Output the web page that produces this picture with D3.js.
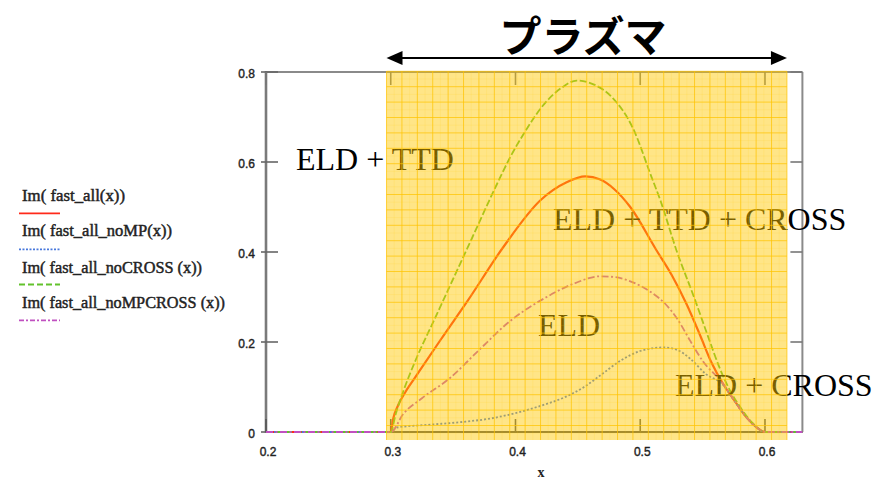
<!DOCTYPE html>
<html>
<head>
<meta charset="utf-8">
<script src="https://cdn.jsdelivr.net/npm/d3@7"></script>
<style>
  body { margin: 0; background: #fff; }
  svg { display: block; }
</style>
</head>
<body>
<svg id="chart" width="879" height="479"></svg>
<script>
// Axis ticks
const xTicks = [0.2, 0.3, 0.4, 0.5, 0.6];
const yTicks = [0, 0.2, 0.4, 0.6, 0.8];
const xTickLabels = ["0.2", "0.3", "0.4", "0.5", "0.6"];
const yTickLabels = ["0", "0.2", "0.4", "0.6", "0.8"];

// Legend entries (expressions plotted)
const seriesNames = [
  "Im( fast_all(x))",
  "Im( fast_all_noMP(x))",
  "Im( fast_all_noCROSS (x))",
  "Im( fast_all_noMPCROSS (x))"
];

// Im(ω) against x, [x, y] pairs
const fastAll = [
  [0.2, 0], [0.3, 0], [0.302, 0.03], [0.306, 0.06], [0.312, 0.09], [0.32, 0.123],
  [0.34, 0.205], [0.362, 0.293], [0.39, 0.41], [0.42, 0.515], [0.441, 0.555],
  [0.456, 0.568], [0.468, 0.561], [0.479, 0.54], [0.492, 0.5], [0.513, 0.404],
  [0.525, 0.35], [0.537, 0.285], [0.548, 0.215], [0.557, 0.155], [0.566, 0.109],
  [0.575, 0.072], [0.585, 0.033], [0.593, 0.011], [0.6, 0], [0.63, 0]
];
const fastAllNoMP = [
  [0.2, 0], [0.3, 0], [0.305, 0.01], [0.33, 0.016], [0.36, 0.023], [0.38, 0.03],
  [0.4, 0.042], [0.42, 0.058], [0.44, 0.078], [0.455, 0.1], [0.47, 0.13],
  [0.485, 0.16], [0.5, 0.18], [0.519, 0.188], [0.53, 0.182], [0.54, 0.163],
  [0.553, 0.128], [0.566, 0.106], [0.575, 0.071], [0.585, 0.033], [0.593, 0.011],
  [0.6, 0], [0.63, 0]
];
const fastAllNoCross = [
  [0.2, 0], [0.3, 0], [0.304, 0.04], [0.31, 0.09], [0.32, 0.16], [0.335, 0.25],
  [0.35, 0.34], [0.365, 0.43], [0.385, 0.55], [0.396, 0.612], [0.406, 0.66],
  [0.424, 0.732], [0.437, 0.765], [0.449, 0.781], [0.463, 0.772], [0.478, 0.742],
  [0.494, 0.676], [0.509, 0.567], [0.516, 0.516], [0.529, 0.404], [0.544, 0.293],
  [0.554, 0.215], [0.564, 0.14], [0.572, 0.092], [0.58, 0.056], [0.59, 0.02],
  [0.6, 0], [0.63, 0]
];
const fastAllNoMPCross = [
  [0.2, 0], [0.3, 0], [0.31, 0.04], [0.325, 0.075], [0.3475, 0.12], [0.37, 0.18],
  [0.395, 0.245], [0.425, 0.3], [0.447, 0.33], [0.468, 0.346], [0.48, 0.344],
  [0.49, 0.337], [0.5, 0.325], [0.51, 0.308], [0.52, 0.285], [0.53, 0.25],
  [0.54, 0.203], [0.55, 0.158], [0.566, 0.109], [0.575, 0.072], [0.585, 0.033],
  [0.593, 0.011], [0.6, 0], [0.63, 0]
];

// Plasma band along x
const plasmaRange = [0.2966, 0.6176];
const plasmaTitle = "プラズマ";

// Curve annotations
const curveLabels = ["ELD + TTD", "ELD + TTD + CROSS", "ELD", "ELD + CROSS"];

const svg = d3.select("#chart");

const x = d3.scaleLinear().domain([0.2, 0.63]).range([266, 802.4]);
const y = d3.scaleLinear().domain([0, 0.8]).range([432, 72]);

const series = [
  { name: seriesNames[0], data: fastAll,          color: "#ff2a1a", dash: null,          width: 2.2, legendDash: null },
  { name: seriesNames[1], data: fastAllNoMP,      color: "#4878dc", dash: "2,2",         width: 1.8, legendDash: "2,1.5" },
  { name: seriesNames[2], data: fastAllNoCross,   color: "#62c22c", dash: "7,2.5",       width: 1.8, legendDash: "6,3" },
  { name: seriesNames[3], data: fastAllNoMPCross, color: "#c050c0", dash: "7,2.5,2,2.5", width: 1.8, legendDash: "5,2,2,2" }
];

// ---- frame ----
const frame = svg.append("g");
const x0 = x.range()[0], x1 = x.range()[1];
const yTop = y(0.8), yBot = y(0);

frame.append("line").attr("x1", x0).attr("x2", x1).attr("y1", yTop).attr("y2", yTop)
  .attr("stroke", "#8a8a8a").attr("stroke-width", 2);
frame.append("line").attr("x1", x1).attr("x2", x1).attr("y1", yTop).attr("y2", yBot)
  .attr("stroke", "#8a8a8a").attr("stroke-width", 2);
frame.append("line").attr("x1", x0).attr("x2", x0).attr("y1", yTop - 1).attr("y2", yBot + 1)
  .attr("stroke", "#7a7a7a").attr("stroke-width", 2.6);
frame.append("line").attr("x1", x0).attr("x2", x1).attr("y1", yBot).attr("y2", yBot)
  .attr("stroke", "#555").attr("stroke-width", 2);

// y ticks on left (in and out) and right (inward)
yTicks.forEach(v => {
  frame.append("line").attr("x1", x0 - 5).attr("x2", x0 + 12).attr("y1", y(v)).attr("y2", y(v))
    .attr("stroke", "#666").attr("stroke-width", 1.6);
  frame.append("line").attr("x1", x1 - 12).attr("x2", x1).attr("y1", y(v)).attr("y2", y(v))
    .attr("stroke", "#777").attr("stroke-width", 1.6);
});
// x ticks on bottom (upward) and top (downward)
xTicks.forEach(v => {
  frame.append("line").attr("x1", x(v)).attr("x2", x(v)).attr("y1", yBot).attr("y2", yBot - 13)
    .attr("stroke", "#555").attr("stroke-width", 1.6);
  frame.append("line").attr("x1", x(v)).attr("x2", x(v)).attr("y1", yTop).attr("y2", yTop + 13)
    .attr("stroke", "#777").attr("stroke-width", 1.6);
});

// tick labels
const tickFont = "'Liberation Sans', Arial, sans-serif";
svg.append("g").selectAll("text").data(yTicks).join("text")
  .attr("x", 255).attr("y", d => y(d) + 6)
  .attr("text-anchor", "end")
  .attr("font-family", tickFont).attr("font-size", 12)
  .attr("fill", "#222").attr("stroke", "#222").attr("stroke-width", 0.4)
  .text((d, i) => yTickLabels[i]);
svg.append("g").selectAll("text").data(xTicks).join("text")
  .attr("x", d => x(d) + 2).attr("y", 456)
  .attr("text-anchor", "middle")
  .attr("font-family", tickFont).attr("font-size", 12)
  .attr("fill", "#222").attr("stroke", "#222").attr("stroke-width", 0.4)
  .text((d, i) => xTickLabels[i]);
svg.append("text").attr("x", 541).attr("y", 477).attr("text-anchor", "middle")
  .attr("font-family", "'Liberation Serif', serif").attr("font-weight", "bold")
  .attr("font-size", 14).attr("fill", "#222").text("x");

// ---- curves ----
const line = d3.line().x(d => x(d[0])).y(d => y(d[1])).curve(d3.curveMonotoneX);
const curves = svg.append("g");
series.forEach(s => {
  curves.append("path").datum(s.data)
    .attr("d", line)
    .attr("fill", "none")
    .attr("stroke", s.color)
    .attr("stroke-width", s.width)
    .attr("stroke-dasharray", s.dash)
    .attr("stroke-linejoin", "round");
});

// ---- curve annotations ----
const labelFont = "'Liberation Serif', 'Times New Roman', serif";
const labelPos = [[296, 170], [553, 230], [538, 336], [675, 396]];
svg.append("g").selectAll("text").data(curveLabels).join("text")
  .attr("x", (d, i) => labelPos[i][0]).attr("y", (d, i) => labelPos[i][1])
  .attr("font-family", labelFont).attr("font-size", 32)
  .attr("fill", "#000")
  .text(d => d);

// ---- plasma band: translucent yellow sheet with grid ----
const band = svg.append("g");
const bx0 = x(plasmaRange[0]), bx1 = x(plasmaRange[1]);
const by0 = 71.3, by1 = 440;
band.append("rect").attr("x", bx0).attr("y", by0).attr("width", bx1 - bx0).attr("height", by1 - by0)
  .attr("fill", "#ffc800").attr("fill-opacity", 0.47);
const step = 15.4;
const fine = band.append("g").attr("stroke", "#ffc800").attr("stroke-opacity", 0.15).attr("stroke-width", 0.8);
const major = band.append("g").attr("stroke", "#ffc400").attr("stroke-opacity", 0.72).attr("stroke-width", 1);
d3.range(bx1, bx0 - 0.1, -step / 2).forEach((gx, i) => {
  (i % 2 === 0 ? major : fine).append("line")
    .attr("x1", gx).attr("x2", gx).attr("y1", by0).attr("y2", by1);
});
d3.range(by0, by1 + 0.1, step / 2).forEach((gy, i) => {
  (i % 2 === 0 ? major : fine).append("line")
    .attr("x1", bx0).attr("x2", bx1).attr("y1", gy).attr("y2", gy);
});

// ---- double arrow with title ----
const arrowY = 58, head = 16, half = 7;
svg.append("line").attr("x1", bx0 + head - 2).attr("x2", bx1 - head + 2)
  .attr("y1", arrowY).attr("y2", arrowY).attr("stroke", "#000").attr("stroke-width", 2);
svg.append("path")
  .attr("d", `M${bx0},${arrowY} L${bx0 + head},${arrowY - half} L${bx0 + head},${arrowY + half} Z`)
  .attr("fill", "#000");
svg.append("path")
  .attr("d", `M${bx1},${arrowY} L${bx1 - head},${arrowY - half} L${bx1 - head},${arrowY + half} Z`)
  .attr("fill", "#000");
svg.append("text").attr("x", 583).attr("y", 52).attr("text-anchor", "middle")
  .attr("font-family", "'Noto Sans CJK JP', sans-serif").attr("font-weight", "bold")
  .attr("font-size", 42).attr("fill", "#000")
  .text(plasmaTitle);

// ---- legend ----
const legend = svg.append("g");
const legendTextY = [201, 236, 273, 308];
const legendLineY = [213.3, 249.3, 284.5, 320.3];
const legendWidths = [103, 150, 180, 203];
series.forEach((s, i) => {
  legend.append("text")
    .attr("x", 22).attr("y", legendTextY[i])
    .attr("font-family", labelFont).attr("font-size", 16)
    .attr("fill", "#222").attr("stroke", "#222").attr("stroke-width", 0.45)
    .attr("textLength", legendWidths[i]).attr("lengthAdjust", "spacingAndGlyphs")
    .text(s.name);
  legend.append("line")
    .attr("x1", 19).attr("x2", 60).attr("y1", legendLineY[i]).attr("y2", legendLineY[i])
    .attr("stroke", s.color).attr("stroke-width", 1.8)
    .attr("stroke-dasharray", s.legendDash);
});
</script>
</body>
</html>
